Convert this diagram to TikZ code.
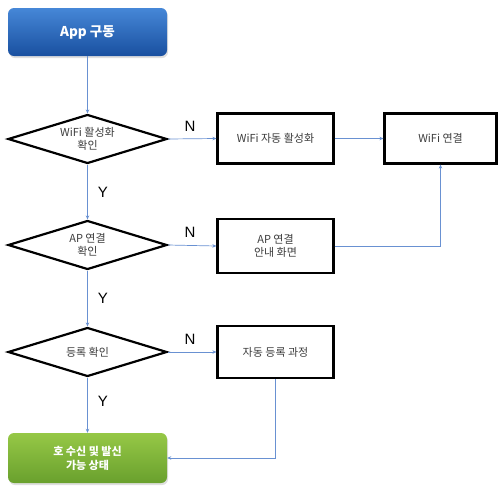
\documentclass[tikz,border=0pt]{standalone}
\usepackage{fontspec}
\setmainfont{Noto Sans CJK KR}
\newfontfamily\labfont{Liberation Sans}
\usetikzlibrary{shapes.geometric,arrows.meta,shadows}
\definecolor{conn}{RGB}{105,145,210}
\definecolor{txt}{RGB}{60,60,60}
\definecolor{bluetop}{RGB}{70,135,215}
\definecolor{bluebot}{RGB}{25,80,160}
\definecolor{greentop}{RGB}{150,200,70}
\definecolor{greenbot}{RGB}{105,160,45}
\begin{document}
\begin{tikzpicture}[x=1pt,y=-1pt,
  decision/.style={diamond,draw=black,line width=2.2pt,minimum width=159pt,minimum height=49pt,inner sep=0pt,aspect=3.2,align=center,font=\fontsize{11}{13}\selectfont,text=txt},
  procbox/.style={rectangle,draw=black,line width=2.2pt,inner sep=0pt,align=center,font=\fontsize{11}{13.5}\selectfont,text=txt},
  termbox/.style={rectangle,rounded corners=6pt,inner sep=0pt,minimum width=159pt,align=center,text=white,drop shadow={opacity=0.25,shadow xshift=1pt,shadow yshift=-2pt}},
  conline/.style={draw=conn,line width=0.7pt},
  conarrow/.style={conline,-{Stealth[length=4pt,width=3.5pt]}},
  yn/.style={font=\labfont\fontsize{15}{16}\selectfont,text=black}
]
\useasboundingbox (0,0) rectangle (498,485);
\node[termbox,minimum height=48pt,top color=bluetop,bottom color=bluebot,font=\bfseries\fontsize{13.5}{15}\selectfont] (start) at (87.5,32) {App 구동};
\node[decision] (d1) at (87.5,139) {WiFi 활성화\\확인};
\node[decision] (d2) at (87.5,245) {AP 연결\\확인};
\node[decision] (d3) at (87.5,352) {등록 확인};
\node[termbox,minimum height=50pt,top color=greentop,bottom color=greenbot,font=\bfseries\fontsize{11}{14}\selectfont] (fin) at (87.5,458) {호 수신 및 발신\\가능 상태};
\node[procbox,minimum width=116pt,minimum height=50pt] (b1) at (275.5,138.5) {WiFi 자동 활성화};
\node[procbox,minimum width=112pt,minimum height=50pt] (b2) at (440.5,138.5) {WiFi 연결};
\node[procbox,minimum width=116pt,minimum height=54pt] (b3) at (275.5,246) {AP 연결\\안내 화면};
\node[procbox,minimum width=116pt,minimum height=52pt] (b4) at (275.5,352) {자동 등록 과정};
\node[yn] (n1) at (190,126) {N};
\node[yn] (n2) at (190,232) {N};
\node[yn] (n3) at (190,339) {N};
\node[yn] (y1) at (103,192) {Y};
\node[yn] (y2) at (103,298) {Y};
\node[yn] (y3) at (103,401) {Y};
\draw[conarrow] (start.south) -- (d1.north);
\draw[conarrow] (d1.east) -- (b1.west);
\draw[conarrow] (b1.east) -- (b2.west);
\draw[conarrow] (d1.south) -- (d2.north);
\draw[conarrow] (d2.east) -- (b3.west);
\draw[conarrow] (b3.east) -| (b2.south);
\draw[conarrow] (d2.south) -- (d3.north);
\draw[conarrow] (d3.east) -- (b4.west);
\draw[conarrow] (d3.south) -- (fin.north);
\draw[conarrow] (b4.south) |- (fin.east);
\end{tikzpicture}
\end{document}
